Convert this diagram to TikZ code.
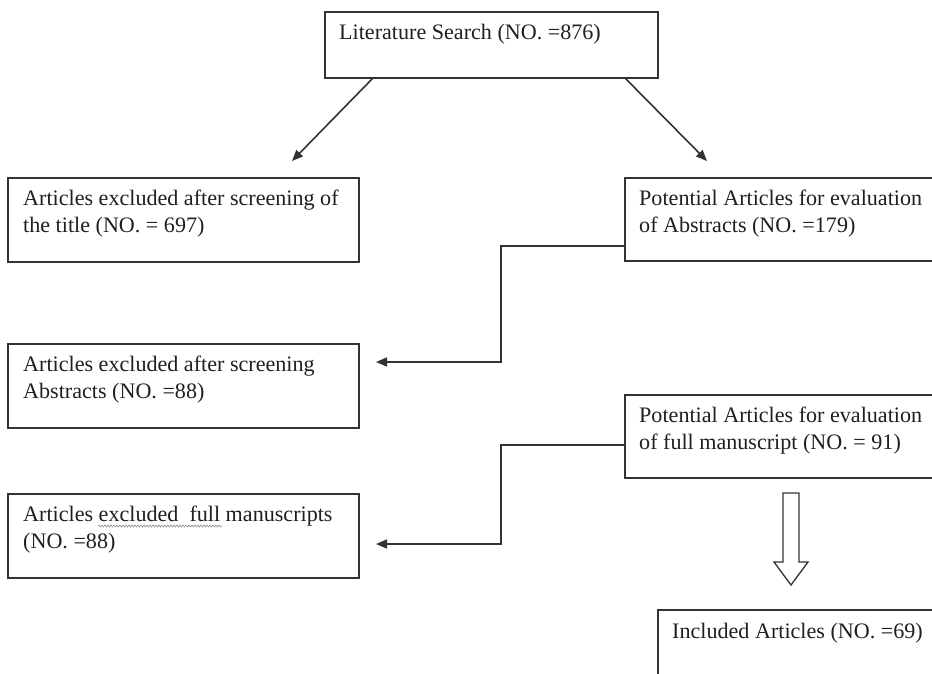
\documentclass[tikz,border=0pt]{standalone}
\usepackage{fontspec}
\setmainfont{Liberation Serif}
\usetikzlibrary{arrows.meta,decorations.pathmorphing}
\begin{document}
\begin{tikzpicture}[x=1pt,y=-1pt,
  box/.style={draw=black!80,line width=1.6pt,rectangle,inner sep=0pt,outer sep=0pt,anchor=north west},
  txt/.style={anchor=base west,inner sep=0pt,text=black!88,font=\fontsize{22.1}{27}\selectfont},
  arr/.style={draw=black!80,line width=1.6pt,-{Triangle[length=11pt,width=9pt]}},
  hollow/.style={draw=black!80,line width=1.3pt,fill=white,line join=miter}]
\useasboundingbox (0,0) rectangle (932,673);
\clip (0,0) rectangle (932,673);
% boxes
\node[box,minimum width=333pt,minimum height=66pt] (b1) at (325,12) {};
\node[box,minimum width=351pt,minimum height=84pt] (b2) at (8,178) {};
\node[box,minimum width=320pt,minimum height=83pt] (b3) at (625,178) {};
\node[box,minimum width=351pt,minimum height=84pt] (b4) at (8,344) {};
\node[box,minimum width=320pt,minimum height=83pt] (b5) at (625,395) {};
\node[box,minimum width=351pt,minimum height=84pt] (b6) at (8,494) {};
\node[box,minimum width=290pt,minimum height=90pt] (b7) at (658,610) {};
% texts
\node[txt] (t1) at (339,39) {Literature Search (NO. =876)};
\node[txt] (t2) at (23,205) {\parbox[t]{340pt}{Articles excluded after screening of\\the title (NO. = 697)}};
\node[txt] (t3) at (639,205) {\parbox[t]{300pt}{Potential Articles for evaluation\\of Abstracts (NO. =179)}};
\node[txt] (t4) at (23,371) {\parbox[t]{340pt}{Articles excluded after screening\\Abstracts (NO. =88)}};
\node[txt] (t5) at (639,422) {\parbox[t]{300pt}{Potential Articles for evaluation\\of full manuscript (NO. = 91)}};
\node[txt] (t6) at (23,521) {\parbox[t]{340pt}{Articles excluded\ \ full manuscripts\\(NO. =88)}};
\node[txt] (t7) at (672,638) {Included Articles (NO. =69)};
% spell-check squiggle
\coordinate (s1) at (98,526);
\coordinate (s2) at (222,526);
\draw[black!45,line width=0.6pt,decorate,decoration={snake,amplitude=1pt,segment length=3pt}] (s1) -- (s2);
% free ends of connectors
\coordinate (e1) at (292,161);
\coordinate (e2) at (707,161);
\coordinate (e3) at (376,362);
\coordinate (e4) at (376,544);
% connectors
\draw[arr] ([xshift=48pt]b1.south west) -- (e1);
\draw[arr] ([xshift=-33pt]b1.south east) -- (e2);
\draw[arr] ([yshift=-26.5pt]b3.west) -- ++(-124,0) |- (e3);
\draw[arr] ([yshift=-8.5pt]b5.west) -- ++(-124,0) |- (e4);
% hollow arrow
\draw[hollow] (783,493) -- (799,493) -- (799,562) -- (808,562) -- (791,585) -- (774,562) -- (783,562) -- cycle;
\end{tikzpicture}
\end{document}
